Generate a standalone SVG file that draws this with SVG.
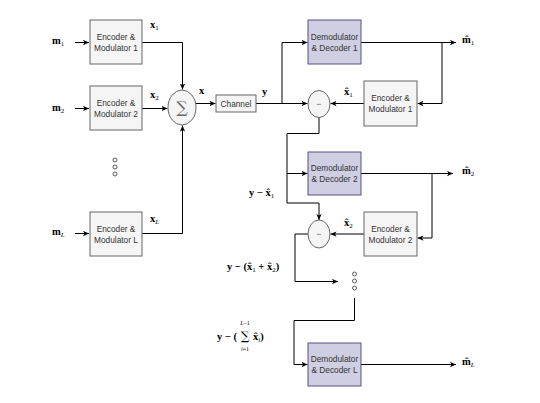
<svg xmlns="http://www.w3.org/2000/svg" width="540" height="403" viewBox="0 0 540 403">
<style>
.box{fill:#f5f5f5;stroke:#666;stroke-width:1}
.dem{fill:#d0cee2;stroke:#56517e;stroke-width:1}
.bt{font-family:"Liberation Sans",Arial,sans-serif;font-size:8.3px;fill:#333;text-anchor:middle}
.m{font-family:"Liberation Serif","Times New Roman",serif;font-size:10.5px;font-weight:bold;fill:#000}
.s{font-size:7px;font-weight:normal}
.i{font-style:italic}
.w{stroke:#000;stroke-width:1;fill:none}
.dot{fill:#fff;stroke:#333;stroke-width:0.8}
</style>
<defs>
<marker id="a" viewBox="0 0 8 8" refX="8" refY="4" markerWidth="6" markerHeight="6" orient="auto" markerUnits="userSpaceOnUse">
<path d="M0,0.5 L8,4 L0,7.5 L2,4 z" fill="#000"/>
</marker>
</defs>
<rect width="540" height="403" fill="#fff"/>

<g id="connectors">
<path class="w" d="M75,42.5 H89" marker-end="url(#a)"/>
<path class="w" d="M75,108.5 H89" marker-end="url(#a)"/>
<path class="w" d="M75,233.5 H89" marker-end="url(#a)"/>
<path class="w" d="M142,42.5 H182.5 V89.5" marker-end="url(#a)"/>
<path class="w" d="M142,108.5 H167.5" marker-end="url(#a)"/>
<path class="w" d="M142,233.5 H182.5 V125.5" marker-end="url(#a)"/>
<path class="w" d="M196,103.5 H215.5" marker-end="url(#a)"/>
<path class="w" d="M256,103.5 H307.5" marker-end="url(#a)"/>
<path class="w" d="M282,103.5 V42.5 H307.5" marker-end="url(#a)"/>
<path class="w" d="M361,42.5 H456" marker-end="url(#a)"/>
<path class="w" d="M442,42.5 V103.5 H417.5" marker-end="url(#a)"/>
<path class="w" d="M364,103.5 H330.5" marker-end="url(#a)"/>
<path class="w" d="M319,117.5 V133.5 H287 V203 H319 V220" marker-end="url(#a)"/>
<path class="w" d="M287,173.5 H307.5" marker-end="url(#a)"/>
<path class="w" d="M361,173.5 H453" marker-end="url(#a)"/>
<path class="w" d="M432,173.5 V238 H417.5" marker-end="url(#a)"/>
<path class="w" d="M364,234 H330.5" marker-end="url(#a)"/>
<path class="w" d="M308,234 H295 V281.5 H338" marker-end="url(#a)"/>
<path class="w" d="M354.5,298 V320.5 H294 V364.5 H307.5" marker-end="url(#a)"/>
<path class="w" d="M361,364.5 H456" marker-end="url(#a)"/>
</g>

<g id="enc1"><rect class="box" x="90" y="20" width="52" height="44"/><text class="bt" x="116" y="39.5">Encoder &amp;</text><text class="bt" x="116" y="50.5">Modulator 1</text></g>
<g id="enc2"><rect class="box" x="90" y="86" width="52" height="44"/><text class="bt" x="116" y="105.5">Encoder &amp;</text><text class="bt" x="116" y="116.5">Modulator 2</text></g>
<g id="encL"><rect class="box" x="90" y="212" width="52" height="44"/><text class="bt" x="116" y="231.5">Encoder &amp;</text><text class="bt" x="116" y="242.5">Modulator L</text></g>
<g id="dotsL"><circle class="dot" cx="115" cy="160" r="2"/><circle class="dot" cx="115" cy="167" r="2"/><circle class="dot" cx="115" cy="174" r="2"/></g>
<g id="sum"><ellipse class="box" cx="182" cy="107.5" rx="14" ry="17.5"/><text x="182" y="113" text-anchor="middle" font-family="'DejaVu Serif',serif" font-size="16" fill="#666">∑</text></g>
<g id="channel"><rect class="box" x="216" y="95" width="40" height="17"/><text class="bt" x="236" y="106.5">Channel</text></g>
<g id="dem1"><rect class="dem" x="308" y="20" width="53" height="44"/><text class="bt" x="334.5" y="39.5">Demodulator</text><text class="bt" x="334.5" y="50.5">&amp; Decoder 1</text></g>
<g id="encR1"><rect class="box" x="364" y="81" width="53" height="45"/><text class="bt" x="390.5" y="101">Encoder &amp;</text><text class="bt" x="390.5" y="112">Modulator 1</text></g>
<g id="minus1"><ellipse class="box" cx="319" cy="104" rx="11" ry="13.5"/><text x="319" y="107" text-anchor="middle" font-family="'Liberation Sans',sans-serif" font-size="9" fill="#666">−</text></g>
<g id="dem2"><rect class="dem" x="308" y="152" width="53" height="43"/><text class="bt" x="334.5" y="171">Demodulator</text><text class="bt" x="334.5" y="182">&amp; Decoder 2</text></g>
<g id="encR2"><rect class="box" x="364" y="212" width="53" height="44"/><text class="bt" x="390.5" y="231.5">Encoder &amp;</text><text class="bt" x="390.5" y="242.5">Modulator 2</text></g>
<g id="minus2"><ellipse class="box" cx="319" cy="234" rx="11" ry="14"/><text x="319" y="237" text-anchor="middle" font-family="'Liberation Sans',sans-serif" font-size="9" fill="#666">−</text></g>
<g id="dotsR"><circle class="dot" cx="354.5" cy="274" r="2"/><circle class="dot" cx="354.5" cy="281" r="2"/><circle class="dot" cx="354.5" cy="288" r="2"/></g>
<g id="demL"><rect class="dem" x="308" y="343" width="53" height="43"/><text class="bt" x="334.5" y="362">Demodulator</text><text class="bt" x="334.5" y="373">&amp; Decoder L</text></g>

<g id="labels">
<text class="m" x="52" y="44">m<tspan class="s" dy="2">1</tspan></text>
<text class="m" x="52" y="111">m<tspan class="s" dy="2">2</tspan></text>
<text class="m" x="52" y="235">m<tspan class="s i" dy="2">L</tspan></text>
<text class="m" x="150" y="28">x<tspan class="s" dy="2">1</tspan></text>
<text class="m" x="150" y="98">x<tspan class="s" dy="2">2</tspan></text>
<text class="m" x="150" y="222">x<tspan class="s i" dy="2">L</tspan></text>
<text class="m" x="199" y="94">x</text>
<text class="m" x="262" y="95">y</text>
<text class="m" x="462" y="43">m̂<tspan class="s" dy="2">1</tspan></text>
<text class="m" x="462" y="174">m̂<tspan class="s" dy="2">2</tspan></text>
<text class="m" x="462" y="365">m̂<tspan class="s i" dy="2">L</tspan></text>
<text class="m" x="344" y="95">x̂<tspan class="s" dy="2">1</tspan></text>
<text class="m" x="344" y="226">x̂<tspan class="s" dy="2">2</tspan></text>
<text class="m" x="249" y="196">y − x̂<tspan class="s" dy="2">1</tspan></text>
<text class="m" x="227" y="270">y − (x̂<tspan class="s" dy="2">1</tspan><tspan dy="-2"> + x̂</tspan><tspan class="s" dy="2">2</tspan><tspan dy="-2">)</tspan></text>
<text class="m" x="217" y="340">y − (</text>
<text x="245" y="340" text-anchor="middle" font-family="'DejaVu Serif',serif" font-size="12" fill="#000">∑</text>
<text x="245" y="325" text-anchor="middle" font-family="'Liberation Serif',serif" font-size="6"><tspan font-style="italic">L</tspan>−1</text>
<text x="245" y="351" text-anchor="middle" font-family="'Liberation Serif',serif" font-size="6"><tspan font-style="italic">i</tspan>=1</text>
<text class="m" x="253" y="340">x̂<tspan class="s i" dy="2">i</tspan><tspan dy="-2">)</tspan></text>
</g>
</svg>
